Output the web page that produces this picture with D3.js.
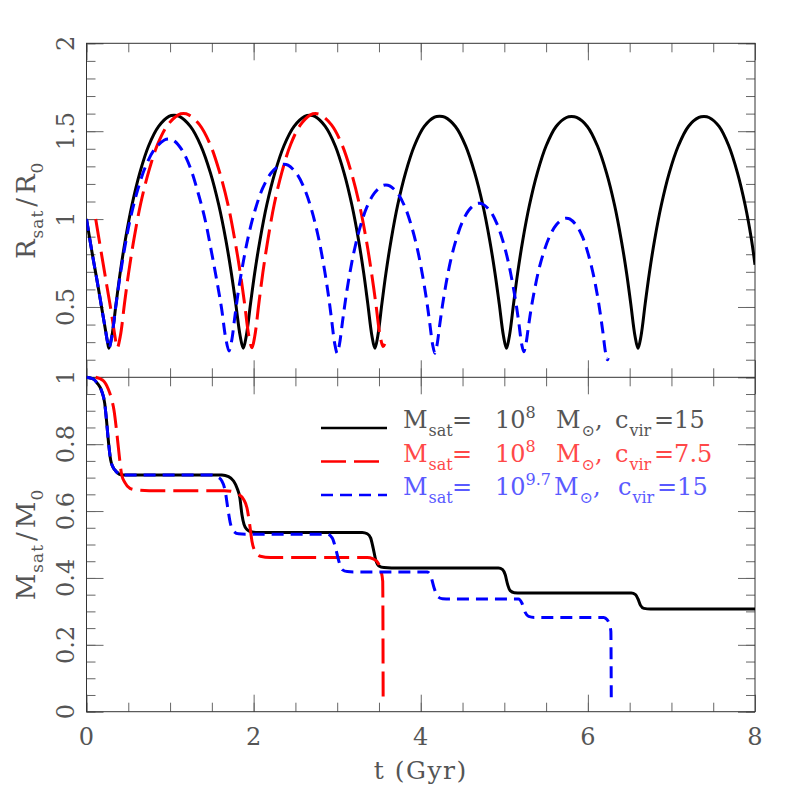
<!DOCTYPE html>
<html lang="en">
<head>
  <meta charset="utf-8">
  <title>Satellite orbit and bound mass</title>
  <script src="https://d3js.org/d3.v7.min.js"></script>
  <style>
    body { margin: 0; background: #fff; }
    svg text { font-family: "DejaVu Serif", serif; fill: #555; }
  </style>
</head>
<body>
<svg width="797" height="797"></svg>

<script>
// ---- data ----
// top panel: orbital radius R_sat/R_0 vs t (Gyr)
var blackOrbit = [
  [0,1.0],[0.07,0.80],[0.13,0.64],[0.18,0.50],[0.23,0.36],[0.252,0.30],[0.269,0.265],
  [0.304,0.335],[0.354,0.519],[0.402,0.691],[0.465,0.883],[0.544,1.08],[0.638,1.263],[0.744,1.417],[0.863,1.527],[0.987,1.584],[1.047,1.59],
  [1.111,1.584],[1.243,1.527],[1.369,1.417],[1.483,1.263],[1.583,1.08],[1.667,0.883],[1.734,0.691],[1.786,0.519],[1.839,0.335],[1.876,0.265],
  [1.912,0.335],[1.963,0.519],[2.012,0.691],[2.077,0.883],[2.157,1.08],[2.254,1.263],[2.363,1.417],[2.484,1.527],[2.612,1.584],[2.673,1.59],
  [2.733,1.584],[2.857,1.527],[2.976,1.417],[3.082,1.263],[3.176,1.08],[3.255,0.883],[3.318,0.691],[3.366,0.519],[3.416,0.335],[3.451,0.265],
  [3.486,0.335],[3.535,0.519],[3.583,0.691],[3.646,0.883],[3.724,1.08],[3.818,1.263],[3.924,1.417],[4.042,1.527],[4.165,1.58],[4.225,1.585],
  [4.287,1.58],[4.415,1.527],[4.537,1.417],[4.646,1.263],[4.743,1.08],[4.824,0.883],[4.889,0.691],[4.939,0.519],[4.990,0.335],[5.026,0.265],
  [5.061,0.335],[5.111,0.519],[5.159,0.691],[5.222,0.883],[5.301,1.08],[5.395,1.263],[5.501,1.417],[5.620,1.527],[5.744,1.578],[5.804,1.583],
  [5.865,1.578],[5.993,1.527],[6.114,1.417],[6.223,1.263],[6.319,1.08],[6.399,0.883],[6.464,0.691],[6.513,0.519],[6.564,0.335],[6.60,0.265],
  [6.636,0.335],[6.686,0.519],[6.735,0.691],[6.799,0.883],[6.879,1.08],[6.974,1.263],[7.083,1.417],[7.203,1.527],[7.329,1.578],[7.39,1.583],
  [7.449,1.578],[7.570,1.527],[7.686,1.417],[7.790,1.263],[7.882,1.08],[7.958,0.883],[8.0,0.74]
];

var redOrbit = [
  [0.11,1.0],[0.18,0.80],[0.24,0.63],[0.29,0.49],[0.335,0.35],[0.352,0.30],[0.369,0.268],
  [0.405,0.335],[0.455,0.521],[0.504,0.694],[0.568,0.887],[0.648,1.087],[0.744,1.27],[0.852,1.426],[0.973,1.536],[1.099,1.593],[1.16,1.60],
  [1.223,1.593],[1.354,1.536],[1.479,1.426],[1.591,1.27],[1.691,1.087],[1.773,0.887],[1.840,0.694],[1.891,0.521],[1.943,0.335],[1.98,0.268],
  [2.014,0.335],[2.063,0.521],[2.110,0.694],[2.172,0.887],[2.248,1.087],[2.340,1.27],[2.444,1.426],[2.560,1.536],[2.681,1.593],[2.74,1.60],
  [2.802,1.593],[2.932,1.536],[3.055,1.426],[3.166,1.27],[3.264,1.087],[3.346,0.887],[3.411,0.694],[3.462,0.521],[3.514,0.335],[3.55,0.275],[3.57,0.29]
];

var blueOrbit = [
  [0,1.0],[0.07,0.80],[0.13,0.64],[0.18,0.50],[0.23,0.36],[0.252,0.30],[0.27,0.265],
  [0.302,0.328],[0.348,0.494],[0.393,0.648],[0.451,0.820],[0.523,0.998],[0.610,1.162],[0.708,1.301],[0.817,1.399],[0.932,1.450],[0.987,1.456],
  [1.042,1.448],[1.140,1.395],[1.240,1.295],[1.335,1.150],[1.420,0.995],[1.497,0.810],[1.565,0.635],[1.617,0.490],[1.667,0.320],[1.705,0.25],
  [1.735,0.302],[1.777,0.451],[1.817,0.589],[1.871,0.743],[1.937,0.902],[2.016,1.049],[2.106,1.173],[2.207,1.261],[2.311,1.307],[2.362,1.312],
  [2.411,1.307],[2.513,1.260],[2.610,1.171],[2.698,1.045],[2.775,0.897],[2.839,0.736],[2.891,0.580],[2.930,0.440],[2.971,0.290],[3.0,0.237],
  [3.026,0.284],[3.064,0.418],[3.100,0.542],[3.147,0.681],[3.206,0.825],[3.276,0.957],[3.356,1.069],[3.445,1.148],[3.538,1.189],[3.583,1.194],
  [3.628,1.189],[3.722,1.148],[3.811,1.069],[3.891,0.957],[3.962,0.825],[4.021,0.681],[4.069,0.542],[4.105,0.418],[4.143,0.284],[4.169,0.237],
  [4.193,0.279],[4.227,0.398],[4.260,0.509],[4.303,0.633],[4.356,0.761],[4.420,0.878],[4.493,0.978],[4.573,1.049],[4.658,1.086],[4.699,1.09],
  [4.740,1.086],[4.826,1.049],[4.907,0.979],[4.980,0.880],[5.044,0.764],[5.098,0.637],[5.142,0.515],[5.175,0.405],[5.209,0.286],[5.233,0.245],
  [5.256,0.282],[5.289,0.389],[5.320,0.487],[5.362,0.598],[5.413,0.712],[5.475,0.817],[5.545,0.905],[5.623,0.968],[5.705,1.001],[5.744,1.005],
  [5.782,1.001],[5.860,0.966],[5.935,0.900],[6.002,0.805],[6.061,0.694],[6.111,0.574],[6.150,0.457],[6.181,0.352],[6.212,0.239],[6.234,0.2],[6.245,0.21]
];

// bottom panel: bound mass M_sat/M_0 vs t (Gyr)
var blackMass = [
  [0,1.0],[0.08,0.995],[0.13,0.982],[0.18,0.96],[0.218,0.922],[0.24,0.87],[0.257,0.822],[0.289,0.753],[0.32,0.73],[0.349,0.72],[0.43,0.708],
  [1.62,0.708],[1.70,0.703],[1.76,0.69],[1.80,0.67],[1.835,0.64],[1.86,0.59],[1.885,0.56],[1.92,0.545],[1.97,0.538],[2.05,0.536],
  [3.3,0.536],[3.36,0.532],[3.4,0.52],[3.43,0.49],[3.46,0.455],[3.5,0.436],[3.56,0.431],[3.65,0.43],
  [4.93,0.43],[4.98,0.425],[5.01,0.41],[5.04,0.38],[5.07,0.362],[5.12,0.356],[5.2,0.355],
  [6.52,0.355],[6.57,0.35],[6.6,0.337],[6.63,0.318],[6.67,0.309],[6.75,0.307],[8,0.307]
];

var redMass = [
  [0.11,1.0],[0.2,0.99],[0.26,0.965],[0.3,0.935],[0.33,0.9],[0.36,0.84],[0.39,0.77],[0.42,0.71],[0.46,0.685],[0.52,0.668],[0.6,0.663],[0.75,0.661],
  [1.65,0.661],[1.75,0.658],[1.82,0.65],[1.88,0.635],[1.92,0.61],[1.95,0.565],[1.98,0.51],[2.02,0.478],[2.08,0.465],[2.2,0.461],
  [3.36,0.461],[3.43,0.457],[3.48,0.448],[3.52,0.425],[3.545,0.39],[3.55,0.04]
];

var blueMass = [
  [0,1.0],[0.08,0.995],[0.13,0.982],[0.18,0.96],[0.218,0.922],[0.24,0.87],[0.257,0.822],[0.289,0.753],[0.32,0.73],[0.349,0.72],[0.43,0.708],
  [1.5,0.708],[1.56,0.703],[1.62,0.69],[1.66,0.66],[1.69,0.61],[1.72,0.565],[1.76,0.54],[1.82,0.532],[1.9,0.531],
  [2.88,0.531],[2.94,0.52],[2.98,0.49],[3.02,0.45],[3.06,0.425],[3.12,0.419],[3.2,0.418],
  [4.08,0.418],[4.12,0.405],[4.16,0.37],[4.2,0.345],[4.26,0.338],[4.35,0.337],
  [5.17,0.337],[5.21,0.325],[5.25,0.297],[5.29,0.285],[5.36,0.282],
  [6.19,0.282],[6.23,0.275],[6.26,0.26],[6.275,0.24],[6.28,0.04]
];

// ticks
var xMajor = [0, 2, 4, 6, 8];
var rMajor = [0.5, 1, 1.5, 2];
var mMajor = [0, 0.2, 0.4, 0.6, 0.8, 1];
var xMinor = d3.range(0, 8.001, 0.5);
var rMinor = d3.range(1, 21).map(function(i) { return i / 10; });
var mMinor = d3.range(0, 21).map(function(i) { return i / 20; });

// legend rows: [text, x, kind]  (kind: n = normal, b = subscript, p = superscript)
var legendRows = [
  { color: "#000", text: "#555", dash: null,
    parts: [["M",403,"n"],["sat",null,"b"],["=",452,"n"],["10",495,"n"],["8",null,"p"],["M",556,"n"],["\u2299",null,"b"],[",",null,"n"],["c",615,"n"],["vir",null,"b"],["=15",654,"n"]] },
  { color: "#f00", text: "#ff4848", dash: "25,8",
    parts: [["M",403,"n"],["sat",null,"b"],["=",452,"n"],["10",495,"n"],["8",null,"p"],["M",556,"n"],["\u2299",null,"b"],[",",null,"n"],["c",615,"n"],["vir",null,"b"],["=7.5",654,"n"]] },
  { color: "#00f", text: "#5a5aff", dash: "12,7",
    parts: [["M",403,"n"],["sat",null,"b"],["=",452,"n"],["10",495,"n"],["9.7",null,"p"],["M",554,"n"],["\u2299",null,"b"],[",",null,"n"],["c",618,"n"],["vir",null,"b"],["=15",657,"n"]] }
];

// ---- layout ----
var svg = d3.select("svg");
var padL = 86.5, padR = 755, yTop = 43.3, yMid = 377.3, yBot = 711.7;

var x = d3.scaleLinear().domain([0, 8]).range([padL, padR]);
var yR = d3.scaleLinear().domain([0.1, 2]).range([yMid, yTop]);
var yM = d3.scaleLinear().domain([0, 1]).range([yBot, yMid]);

// inward ticks on every side
function addTicks(axis, tr, vals, len) {
  svg.append("g")
      .attr("transform", tr)
      .style("color", "#666")
      .call(axis.tickValues(vals).tickSize(-len).tickFormat(""))
      .call(function(g) { g.select(".domain").remove(); });
}

[[xMinor, 9], [xMajor, 17]].forEach(function(p) {
  addTicks(d3.axisTop(x), "translate(0," + yTop + ")", p[0], p[1]);
  addTicks(d3.axisBottom(x), "translate(0," + yMid + ")", p[0], p[1]);
  addTicks(d3.axisTop(x), "translate(0," + yMid + ")", p[0], p[1]);
  addTicks(d3.axisBottom(x), "translate(0," + yBot + ")", p[0], p[1]);
});
[[rMinor, 9], [rMajor, 17]].forEach(function(p) {
  addTicks(d3.axisLeft(yR), "translate(" + padL + ",0)", p[0], p[1]);
  addTicks(d3.axisRight(yR), "translate(" + padR + ",0)", p[0], p[1]);
});
[[mMinor, 9], [mMajor, 17]].forEach(function(p) {
  addTicks(d3.axisLeft(yM), "translate(" + padL + ",0)", p[0], p[1]);
  addTicks(d3.axisRight(yM), "translate(" + padR + ",0)", p[0], p[1]);
});

// frame
svg.append("rect")
    .attr("x", padL).attr("y", yTop)
    .attr("width", padR - padL).attr("height", yBot - yTop)
    .attr("fill", "none").attr("stroke", "#333").attr("stroke-width", 1);
svg.append("line")
    .attr("x1", padL).attr("x2", padR).attr("y1", yMid).attr("y2", yMid)
    .attr("stroke", "#333").attr("stroke-width", 1);

// tick labels
svg.selectAll(".xl").data(xMajor).enter().append("text")
    .attr("x", function(d) { return x(d); }).attr("y", 745)
    .attr("text-anchor", "middle").attr("font-size", 24)
    .text(function(d) { return d; });

function yLabels(scale, vals) {
  svg.selectAll(null).data(vals).enter().append("text")
      .attr("transform", function(d) { return "translate(74," + scale(d) + ") rotate(-90)"; })
      .attr("text-anchor", "middle").attr("font-size", 24)
      .text(function(d) { return d; });
}
yLabels(yR, rMajor);
yLabels(yM, mMajor);

// axis titles
svg.append("text")
    .attr("x", (padL + padR) / 2).attr("y", 779)
    .attr("text-anchor", "middle").attr("font-size", 25)
    .style("letter-spacing", "1.5px")
    .text("t (Gyr)");

function yTitle(yc, a, b) {
  var t = svg.append("text")
      .attr("transform", "translate(35," + yc + ") rotate(-90)")
      .attr("text-anchor", "middle").attr("font-size", 26)
      .style("letter-spacing", "1px");
  t.append("tspan").text(a);
  t.append("tspan").attr("dy", 8).attr("font-size", 17).text("sat");
  t.append("tspan").attr("dy", -8).attr("dx", 3).text("/");
  t.append("tspan").attr("dx", 3).text(a);
  t.append("tspan").attr("dy", 8).attr("font-size", 17).text(b);
}
yTitle((yTop + yMid) / 2, "R", "0");
yTitle((yMid + yBot) / 2, "M", "0");

// curves
var clip = svg.append("clipPath").attr("id", "plot");
clip.append("rect").attr("x", padL).attr("y", yTop).attr("width", padR - padL).attr("height", yBot - yTop);

var lineR = d3.line()
    .x(function(d) { return x(d[0]); })
    .y(function(d) { return yR(d[1]); })
    .curve(d3.curveCatmullRom.alpha(0.5));
var lineM = d3.line()
    .x(function(d) { return x(d[0]); })
    .y(function(d) { return yM(d[1]); })
    .curve(d3.curveMonotoneX);

var series = [
  { r: blackOrbit, m: blackMass, color: "#000", dash: null },
  { r: redOrbit, m: redMass, color: "#f00", dash: "25,8" },
  { r: blueOrbit, m: blueMass, color: "#00f", dash: "12,7" }
];

var plot = svg.append("g").attr("clip-path", "url(#plot)");
series.forEach(function(s) {
  [[s.r, lineR], [s.m, lineM]].forEach(function(p) {
    plot.append("path")
        .datum(p[0])
        .attr("d", p[1])
        .attr("fill", "none")
        .attr("stroke", s.color)
        .attr("stroke-width", 3)
        .attr("stroke-dasharray", s.dash);
  });
});

// legend
var rowY = [428, 461.5, 495];
legendRows.forEach(function(row, i) {
  var by = rowY[i];
  svg.append("line")
      .attr("x1", 321).attr("x2", 387).attr("y1", by).attr("y2", by)
      .attr("stroke", row.color).attr("stroke-width", 2.5)
      .attr("stroke-dasharray", row.dash);

  var t = svg.append("text").attr("y", by).attr("font-size", 24).style("fill", row.text);
  var shift = 0;
  row.parts.forEach(function(p) {
    var target = p[2] === "b" ? 8 : p[2] === "p" ? -10 : 0;
    var ts = t.append("tspan").attr("dy", target - shift).text(p[0]);
    if (p[1] !== null) ts.attr("x", p[1]);
    if (p[2] !== "n") ts.attr("font-size", 16);
    if (p[2] === "b") ts.attr("dx", 1);
    shift = target;
  });
});
</script>
</body>
</html>
